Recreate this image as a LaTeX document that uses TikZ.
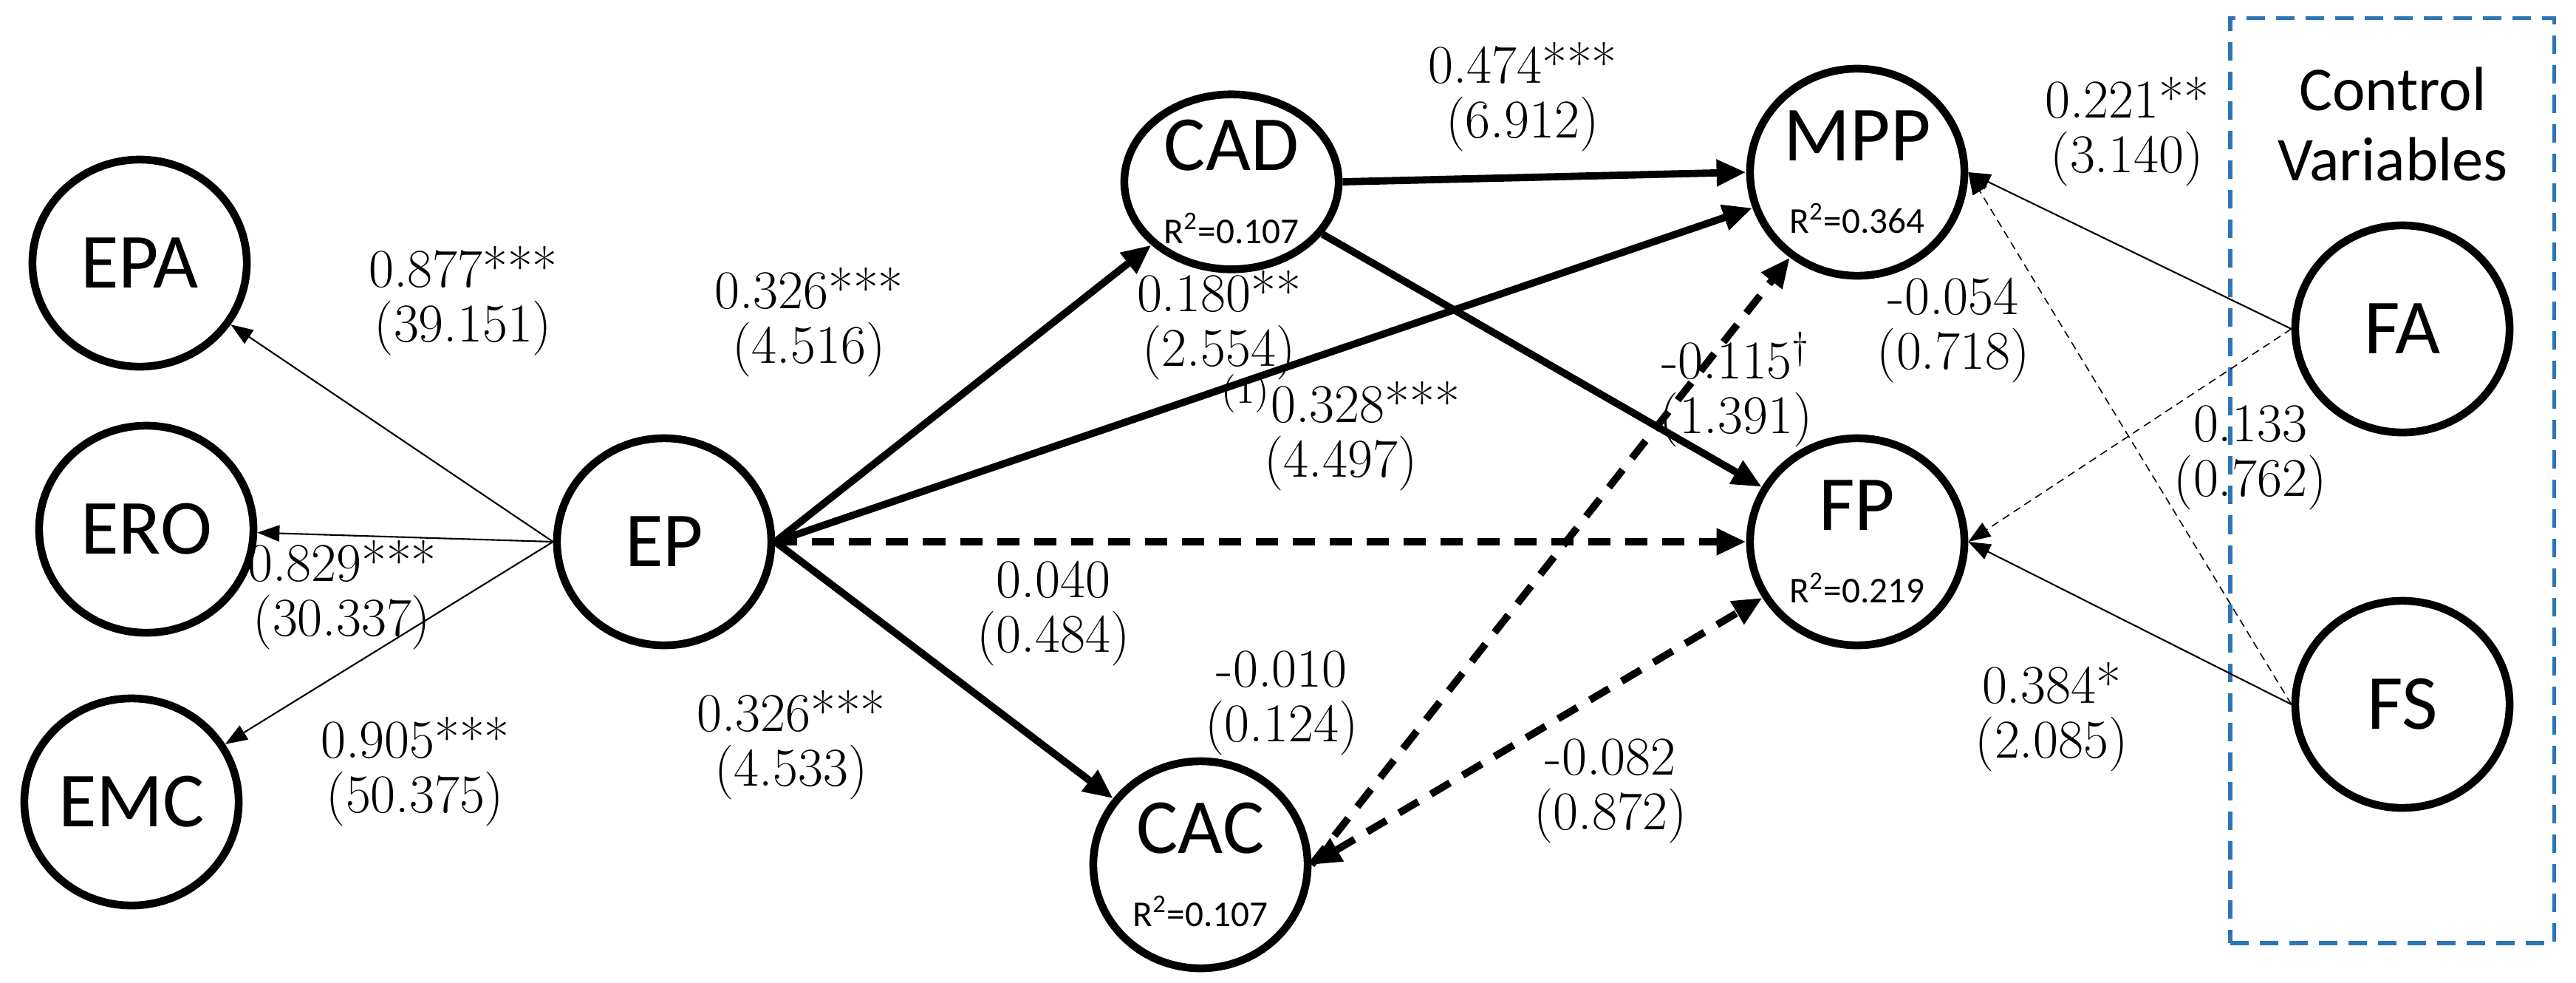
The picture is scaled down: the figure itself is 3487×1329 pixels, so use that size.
\documentclass[tikz,border=0pt]{standalone}
\usepackage{fontspec}
\usetikzlibrary{shapes.geometric,arrows.meta}
\newfontfamily\nodefont{Carlito}
\begin{document}
\begin{tikzpicture}[x=0.01cm,y=-0.01cm,
  lv/.style={ellipse,draw,line width=3pt,minimum width=2.9cm,minimum height=2.8cm,inner sep=0pt,align=center,font=\nodefont\fontsize{30}{32}\selectfont},
  lab/.style={align=center,font=\fontsize{21}{21}\selectfont},
  thin/.style={line width=0.6pt,-{Triangle[length=0.3cm,width=0.22cm]}},
  thk/.style={line width=2.8pt,-{Triangle[length=0.4cm,width=0.34cm]}},
  thkd/.style={thk,dash pattern=on 0.3cm off 0.2cm},
  dot/.style={thin,densely dashed,line width=0.45pt}]
\useasboundingbox (0,0) rectangle (3487,1329);
\node[lv] (EPA) at (189,356) {EPA};
\node[lv] (ERO) at (198,716) {ERO};
\node[lv] (EMC) at (178,1085) {EMC};
\node[lv] (EP) at (899,733) {EP};
\node[lv,minimum height=2.2cm] (CAD) at (1667,246) {CAD\\[-4pt]{\fontsize{14}{15}\selectfont R\textsuperscript{2}=0.107}};
\node[lv] (CAC) at (1625,1170) {CAC\\[-4pt]{\fontsize{14}{15}\selectfont R\textsuperscript{2}=0.107}};
\node[lv] (MPP) at (2514,233) {MPP\\[-4pt]{\fontsize{14}{15}\selectfont R\textsuperscript{2}=0.364}};
\node[lv] (FP) at (2514,733) {FP\\[-4pt]{\fontsize{14}{15}\selectfont R\textsuperscript{2}=0.219}};
\node[lv] (FA) at (3252,445) {FA};
\node[lv] (FS) at (3252,953) {FS};
\node[draw={rgb,255:red,46;green,117;blue,182},line width=1.5pt,dash pattern=on 0.25cm off 0.15cm,minimum width=4.38cm,minimum height=12.51cm,inner sep=0pt] (box) at (3238,650) {};
\node[align=center,font=\nodefont\fontsize{24}{27}\selectfont] (cv) at (3239,168) {Control\\Variables};
% measurement
\draw[thin] (EP.west) -- (EPA);
\draw[thin] (EP.west) -- (ERO);
\draw[thin] (EP.west) -- (EMC);
% structural
\draw[thk] (EP.east) -- (CAD);
\draw[thk] (EP.east) -- (CAC);
\draw[thk] (EP.east) -- (MPP);
\draw[thkd] (EP.east) -- (FP.west);
\draw[thk] (CAD.east) -- (MPP.west);
\draw[thk] (CAD) -- (FP);
\draw[thkd] (CAC.east) -- (MPP);
\draw[thkd,{Triangle[length=0.4cm,width=0.34cm]}-{Triangle[length=0.4cm,width=0.34cm]}] (CAC.east) -- (FP);
% controls
\draw[thin] (FA.west) -- (MPP.east);
\draw[dot] (FA.west) -- (FP.east);
\draw[thin] (FS.west) -- (FP.east);
\draw[dot] (FS.west) -- (MPP.east);
% labels
\node[lab] (l1) at (627,407) {0.877***\\(39.151)};
\node[lab] (l2) at (463,805) {0.829***\\(30.337)};
\node[lab] (l3) at (562,1044) {0.905***\\(50.375)};
\node[lab] (l4) at (1095,436) {0.326***\\(4.516)};
\node[lab] (l5) at (1071,1008) {0.326***\\(4.533)};
\node[lab] (l6) at (2061,131) {0.474***\\(6.912)};
\node[lab] (l7) at (1650,440) {0.180**\\(2.554)};
\node[lab] (l8) at (1815,585) {\textsuperscript{(1)}0.328***\\(4.497)};
\node[lab] (l9) at (1426,830) {0.040\\(0.484)};
\node[lab] (l10) at (1735,951) {-0.010\\(0.124)};
\node[lab] (l11) at (2180,1070) {-0.082\\(0.872)};
\node[lab] (l12) at (2350,527) {-0.115\textsuperscript{\dag}\\(1.391)};
\node[lab] (l13) at (2879,178) {0.221**\\(3.140)};
\node[lab] (l14) at (2644,447) {-0.054\\(0.718)};
\node[lab] (l15) at (3046,619) {0.133\\(0.762)};
\node[lab] (l16) at (2777,970) {0.384*\\(2.085)};
\end{tikzpicture}
\end{document}
